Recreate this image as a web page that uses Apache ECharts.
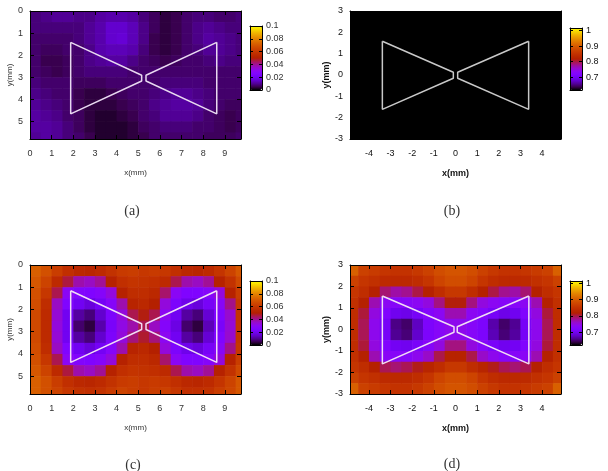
<!DOCTYPE html>
<html>
<head>
<meta charset="utf-8">
<script src="https://cdn.jsdelivr.net/npm/echarts@6/dist/echarts.min.js"></script>
<style>html,body{margin:0;padding:0;background:#fff}#chart{width:608px;height:471px}</style>
</head>
<body>
<div id="chart"></div>
<script>
// cell centres in mm, panels (a) and (c)
var xCellsAC = [0.25, 0.75, 1.25, 1.75, 2.25, 2.75, 3.25, 3.75, 4.25, 4.75, 5.25, 5.75, 6.25, 6.75, 7.25, 7.75, 8.25, 8.75, 9.25, 9.75];
var yCellsAC = [0.25, 0.75, 1.25, 1.75, 2.25, 2.75, 3.25, 3.75, 4.25, 4.75, 5.25, 5.75];

// panel (a), one row per y cell
var zA = [
  [0.008,0.009,0.010,0.010,0.009,0.009,0.011,0.012,0.012,0.011,0.008,0.006,0.004,0.005,0.007,0.008,0.008,0.007,0.007,0.008],
  [0.008,0.008,0.008,0.008,0.008,0.010,0.012,0.015,0.015,0.013,0.009,0.006,0.004,0.005,0.007,0.009,0.010,0.009,0.008,0.008],
  [0.007,0.007,0.007,0.007,0.008,0.010,0.012,0.015,0.016,0.013,0.009,0.005,0.004,0.005,0.007,0.009,0.011,0.010,0.009,0.008],
  [0.007,0.006,0.006,0.007,0.007,0.009,0.012,0.013,0.013,0.012,0.008,0.005,0.004,0.005,0.007,0.008,0.010,0.010,0.009,0.008],
  [0.007,0.005,0.005,0.006,0.007,0.009,0.010,0.011,0.011,0.009,0.007,0.006,0.005,0.006,0.007,0.007,0.008,0.009,0.008,0.008],
  [0.007,0.006,0.005,0.006,0.007,0.008,0.008,0.008,0.008,0.007,0.007,0.007,0.007,0.007,0.007,0.007,0.007,0.007,0.007,0.007],
  [0.008,0.007,0.007,0.007,0.006,0.006,0.006,0.007,0.007,0.007,0.007,0.007,0.008,0.008,0.008,0.008,0.007,0.007,0.007,0.007],
  [0.009,0.008,0.007,0.007,0.005,0.004,0.004,0.005,0.006,0.007,0.007,0.008,0.009,0.010,0.010,0.009,0.008,0.007,0.007,0.007],
  [0.010,0.009,0.008,0.007,0.005,0.004,0.004,0.004,0.005,0.006,0.007,0.009,0.010,0.011,0.011,0.010,0.008,0.007,0.006,0.006],
  [0.011,0.010,0.009,0.007,0.006,0.004,0.003,0.003,0.004,0.005,0.007,0.008,0.010,0.010,0.010,0.009,0.007,0.006,0.005,0.006],
  [0.011,0.011,0.010,0.008,0.006,0.004,0.003,0.003,0.003,0.004,0.006,0.007,0.008,0.008,0.008,0.007,0.007,0.006,0.005,0.006],
  [0.010,0.011,0.010,0.008,0.007,0.005,0.003,0.003,0.003,0.004,0.005,0.007,0.007,0.007,0.007,0.007,0.006,0.006,0.006,0.007]
];

// panel (c)
var zC = [
  [0.072,0.068,0.062,0.057,0.054,0.053,0.055,0.058,0.061,0.062,0.060,0.061,0.060,0.057,0.054,0.053,0.055,0.059,0.064,0.070],
  [0.070,0.064,0.055,0.046,0.038,0.036,0.040,0.051,0.057,0.059,0.058,0.057,0.055,0.045,0.038,0.036,0.040,0.051,0.058,0.066],
  [0.068,0.060,0.045,0.029,0.026,0.025,0.027,0.033,0.051,0.056,0.056,0.054,0.043,0.029,0.025,0.025,0.027,0.033,0.051,0.062],
  [0.067,0.056,0.036,0.025,0.020,0.017,0.021,0.027,0.038,0.052,0.054,0.050,0.033,0.024,0.019,0.017,0.022,0.028,0.041,0.060],
  [0.066,0.055,0.034,0.020,0.011,0.008,0.015,0.024,0.033,0.045,0.049,0.045,0.030,0.020,0.011,0.008,0.016,0.025,0.035,0.059],
  [0.066,0.055,0.033,0.020,0.007,0.004,0.012,0.023,0.032,0.038,0.045,0.036,0.027,0.018,0.007,0.004,0.013,0.023,0.034,0.059],
  [0.066,0.055,0.034,0.020,0.011,0.008,0.015,0.024,0.033,0.042,0.047,0.042,0.030,0.020,0.011,0.008,0.016,0.025,0.035,0.059],
  [0.067,0.056,0.036,0.025,0.020,0.017,0.021,0.027,0.038,0.052,0.054,0.050,0.033,0.024,0.019,0.017,0.022,0.028,0.041,0.060],
  [0.068,0.060,0.045,0.029,0.026,0.025,0.027,0.033,0.051,0.056,0.056,0.054,0.043,0.029,0.025,0.025,0.027,0.033,0.051,0.062],
  [0.070,0.064,0.055,0.046,0.038,0.036,0.040,0.051,0.057,0.059,0.058,0.057,0.055,0.045,0.038,0.036,0.040,0.051,0.058,0.066],
  [0.072,0.068,0.062,0.057,0.054,0.053,0.055,0.058,0.061,0.062,0.060,0.061,0.060,0.057,0.054,0.053,0.055,0.059,0.064,0.070],
  [0.072,0.068,0.064,0.060,0.058,0.057,0.058,0.061,0.064,0.062,0.060,0.062,0.063,0.060,0.057,0.057,0.058,0.062,0.065,0.070]
];

// panel (b): flat, everything at the bottom of the scale
var xCellsB = [-3.75, -1.25, 1.25, 3.75];
var yCellsB = [2.25, 0.75, -0.75, -2.25];
var zB = [
  [0.62, 0.62, 0.62, 0.62],
  [0.62, 0.62, 0.62, 0.62],
  [0.62, 0.62, 0.62, 0.62],
  [0.62, 0.62, 0.62, 0.62]
];

// panel (d), rows from top (y=2.75) down
var xCellsD = [-4.75, -4.25, -3.75, -3.25, -2.75, -2.25, -1.75, -1.25, -0.75, -0.25, 0.25, 0.75, 1.25, 1.75, 2.25, 2.75, 3.25, 3.75, 4.25, 4.75];
var yCellsD = [2.75, 2.25, 1.75, 1.25, 0.75, 0.25, -0.25, -0.75, -1.25, -1.75, -2.25, -2.75];
var zD = [
  [0.905,0.870,0.862,0.854,0.850,0.850,0.858,0.870,0.885,0.893,0.893,0.885,0.870,0.858,0.850,0.850,0.854,0.862,0.870,0.905],
  [0.870,0.854,0.846,0.838,0.835,0.835,0.842,0.854,0.874,0.885,0.885,0.874,0.854,0.842,0.835,0.835,0.838,0.846,0.854,0.870],
  [0.854,0.842,0.820,0.788,0.772,0.780,0.800,0.820,0.842,0.858,0.858,0.842,0.820,0.800,0.780,0.772,0.788,0.820,0.842,0.854],
  [0.846,0.820,0.768,0.737,0.729,0.729,0.737,0.749,0.784,0.815,0.815,0.784,0.749,0.737,0.729,0.729,0.737,0.768,0.820,0.846],
  [0.842,0.803,0.749,0.721,0.698,0.694,0.706,0.725,0.737,0.768,0.768,0.737,0.725,0.706,0.694,0.698,0.721,0.749,0.803,0.842],
  [0.842,0.796,0.741,0.706,0.655,0.647,0.675,0.714,0.729,0.741,0.741,0.729,0.714,0.667,0.647,0.659,0.706,0.741,0.796,0.842],
  [0.842,0.796,0.741,0.706,0.659,0.651,0.679,0.714,0.729,0.741,0.741,0.729,0.714,0.671,0.651,0.663,0.706,0.741,0.796,0.842],
  [0.842,0.803,0.749,0.721,0.702,0.698,0.710,0.729,0.749,0.784,0.784,0.749,0.729,0.710,0.698,0.702,0.721,0.749,0.803,0.842],
  [0.846,0.820,0.768,0.733,0.729,0.729,0.741,0.760,0.799,0.823,0.823,0.799,0.760,0.741,0.729,0.729,0.733,0.768,0.820,0.846],
  [0.854,0.842,0.820,0.796,0.788,0.796,0.811,0.827,0.842,0.858,0.858,0.842,0.827,0.811,0.796,0.788,0.796,0.820,0.842,0.854],
  [0.870,0.854,0.846,0.838,0.835,0.835,0.842,0.854,0.874,0.885,0.885,0.874,0.854,0.842,0.835,0.835,0.838,0.846,0.854,0.870],
  [0.905,0.870,0.862,0.854,0.850,0.850,0.858,0.870,0.885,0.893,0.893,0.885,0.870,0.858,0.850,0.850,0.854,0.862,0.870,0.905]
];

// bowtie outlines (mm)
var bowAL = [[1.88,1.42],[5.16,2.91],[5.16,3.17],[1.88,4.66],[1.88,1.42]];
var bowAR = [[8.63,1.42],[5.36,2.91],[5.36,3.17],[8.63,4.66],[8.63,1.42]];
var bowBL = [[-3.38,1.58],[-0.10,0.13],[-0.10,-0.15],[-3.38,-1.61],[-3.38,1.58]];
var bowBR = [[3.38,1.58],[0.10,0.13],[0.10,-0.15],[3.38,-1.61],[3.38,1.58]];
var bowCL = [[1.88,1.16],[5.16,2.64],[5.16,2.90],[1.88,4.38],[1.88,1.16]];
var bowCR = [[8.63,1.16],[5.36,2.64],[5.36,2.90],[8.63,4.38],[8.63,1.16]];
var bowDL = [[-3.38,1.56],[-0.07,0.13],[-0.07,-0.13],[-3.38,-1.60],[-3.38,1.56]];
var bowDR = [[3.39,1.56],[0.08,0.13],[0.08,-0.13],[3.39,-1.60],[3.39,1.56]];

// colour bar ranges
var cbarAC = [0, 0.1];
var cbarBD = [0.62, 1.015];

// gnuplot default pm3d palette (rgbformulae 7,5,15)
var palette = ['#000000','#39004f','#510096','#6301ce','#7202f2','#8004ff','#8c07f2','#970bce','#a11096','#ab174f',
  '#b42000','#bd2a00','#c63700','#ce4600','#d55700','#dd6c00','#e48300','#eb9d00','#f2ba00','#f9db00','#ffff00'];

var font = 'Liberation Sans';

function cells(xs, ys, rows) {
  var out = [];
  for (var r = 0; r < ys.length; r++) {
    for (var c = 0; c < xs.length; c++) {
      out.push([xs[c], ys[r], rows[r][c]]);
    }
  }
  return out;
}

var panels = [
  { grid: {left: 30, top: 11, width: 211, height: 128}, xr: [0, 9.75], yr: [0, 5.8], inverse: true, xInt: 1,
    yGap: 16, bold: false, data: cells(xCellsAC, yCellsAC, zA), cw: 0.5, ch: 0.5, bow: [bowAL, bowAR], line: '#e8d8f0',
    cbar: {left: 250, top: 26, width: 12, height: 64}, cr: cbarAC, cInt: 0.02, cap: ['(a)', 132, 211] },
  { grid: {left: 350, top: 11, width: 211, height: 128}, xr: [-4.875, 4.875], yr: [-3, 3], inverse: false, xInt: 0,
    yGap: 10, bold: true, data: cells(xCellsB, yCellsB, zB), cw: 2.5, ch: 1.5, bow: [bowBL, bowBR], line: '#c8c8c8',
    cbar: {left: 570, top: 28, width: 12, height: 62}, cr: cbarBD, cInt: 0, cap: ['(b)', 452, 211] },
  { grid: {left: 30, top: 265, width: 211, height: 129}, xr: [0, 9.75], yr: [0, 5.8], inverse: true, xInt: 1,
    yGap: 16, bold: false, data: cells(xCellsAC, yCellsAC, zC), cw: 0.5, ch: 0.5, bow: [bowCL, bowCR], line: '#f0dcf4',
    cbar: {left: 250, top: 281, width: 12, height: 64}, cr: cbarAC, cInt: 0.02, cap: ['(c)', 133, 465] },
  { grid: {left: 350, top: 265, width: 211, height: 129}, xr: [-4.875, 4.875], yr: [-3, 3], inverse: false, xInt: 0,
    yGap: 10, bold: true, data: cells(xCellsD, yCellsD, zD), cw: 0.5, ch: 0.5, bow: [bowDL, bowDR], line: '#f0dcf4',
    cbar: {left: 570, top: 281, width: 12, height: 64}, cr: cbarBD, cInt: 0, cap: ['(d)', 452, 464] }
];

var grids = [], xAxes = [], yAxes = [], series = [], visualMaps = [], captions = [];
var black = { show: true, onZero: false, lineStyle: { color: '#000', width: 1 } };

function heatSeries(i, p) {
  return {
    type: 'custom', xAxisIndex: 2 * i, yAxisIndex: 2 * i, data: p.data, clip: true, silent: true,
    encode: { x: 0, y: 1 },
    renderItem: function (params, api) {
      var c = api.coord([api.value(0), api.value(1)]);
      var s = api.size([p.cw, p.ch]);
      var w = Math.abs(s[0]), h = Math.abs(s[1]);
      return { type: 'rect', shape: { x: c[0] - w / 2, y: c[1] - h / 2, width: w + 0.6, height: h + 0.6 },
        style: { fill: api.visual('color') } };
    }
  };
}

// plot grids
panels.forEach(function (p, i) {
  grids.push(p.grid);
  var col = p.bold ? '#111' : '#333';
  var lab = { fontSize: 9, color: col, fontFamily: font };
  var nameStyle = { fontSize: p.bold ? 9 : 8, fontWeight: p.bold ? 'bold' : 'normal', color: col, fontFamily: font };
  var tick = { show: true, inside: true, length: 4, lineStyle: { color: '#000' } };
  var xb = { type: 'value', gridIndex: i, min: p.xr[0], max: p.xr[1], splitLine: { show: false },
    axisLine: black, axisTick: tick, z: 10 };
  if (p.xInt) xb.interval = p.xInt; else xb.splitNumber = 10;
  xAxes.push(Object.assign({}, xb, { position: 'bottom', name: 'x(mm)', nameLocation: 'middle', nameGap: 30,
    nameTextStyle: nameStyle,
    axisLabel: Object.assign({ margin: 10, showMinLabel: !!p.xInt, showMaxLabel: false }, lab) }));
  xAxes.push(Object.assign({}, xb, { position: 'top', axisLabel: { show: false } }));
  var yb = { type: 'value', gridIndex: i, min: p.yr[0], max: p.yr[1], interval: 1, inverse: p.inverse,
    splitLine: { show: false }, axisLine: black, axisTick: tick, z: 10 };
  yAxes.push(Object.assign({}, yb, { position: 'left', name: 'y(mm)', nameLocation: 'middle', nameGap: p.yGap,
    nameTextStyle: nameStyle, axisLabel: Object.assign({ margin: 7, showMaxLabel: p.inverse ? false : true }, lab) }));
  yAxes.push(Object.assign({}, yb, { position: 'right', axisLabel: { show: false } }));
  series.push(heatSeries(i, p));
  visualMaps.push({
    type: 'continuous', seriesIndex: i, dimension: 2, min: p.cr[0], max: p.cr[1],
    inRange: { color: palette }, outOfRange: { color: ['#000000'] }, calculable: false, hoverLink: false,
    orient: 'vertical', left: p.cbar.left, top: p.cbar.top, itemWidth: p.cbar.width, itemHeight: p.cbar.height,
    padding: 0, text: null, zlevel: 0, z: 4
  });
  captions.push({ type: 'text', x: p.cap[1], y: p.cap[2], z: 20,
    style: { text: p.cap[0], fontSize: 14, fontFamily: 'Liberation Serif', fill: '#333',
      align: 'center', verticalAlign: 'middle', textAlign: 'center', textVerticalAlign: 'middle' } });
});

// bowtie outlines
panels.forEach(function (p, i) {
  p.bow.forEach(function (pts) {
    series.push({ type: 'line', xAxisIndex: 2 * i, yAxisIndex: 2 * i, data: pts, showSymbol: false, symbol: 'none',
      silent: true, z: 5, lineStyle: { color: p.line, width: 1.5 } });
  });
});

// colour bar frames and tick labels
panels.forEach(function (p, i) {
  var gi = 4 + i;
  grids.push(p.cbar);
  var col = p.bold ? '#111' : '#333';
  var ctick = { show: true, inside: true, length: 3, lineStyle: { color: '#000' } };
  var xc = { type: 'value', gridIndex: gi, min: 0, max: 1, axisLine: black, axisTick: { show: false },
    axisLabel: { show: false }, splitLine: { show: false }, z: 10 };
  xAxes.push(Object.assign({}, xc, { position: 'bottom' }));
  xAxes.push(Object.assign({}, xc, { position: 'top' }));
  var yc = { type: 'value', gridIndex: gi, min: p.cr[0], max: p.cr[1], axisLine: black, axisTick: ctick,
    splitLine: { show: false }, z: 10 };
  if (p.cInt) yc.interval = p.cInt; else yc.splitNumber = 4;
  yAxes.push(Object.assign({}, yc, { position: 'left', axisLabel: { show: false } }));
  yAxes.push(Object.assign({}, yc, { position: 'right',
    axisLabel: { show: true, margin: 4, fontSize: 9, color: col, fontFamily: font,
      showMinLabel: !!p.cInt, showMaxLabel: !!p.cInt } }));
});

var chart = echarts.init(document.getElementById('chart'));
chart.setOption({
  animation: false,
  backgroundColor: '#ffffff',
  grid: grids,
  xAxis: xAxes,
  yAxis: yAxes,
  visualMap: visualMaps,
  series: series,
  graphic: captions
});
</script>
</body>
</html>
